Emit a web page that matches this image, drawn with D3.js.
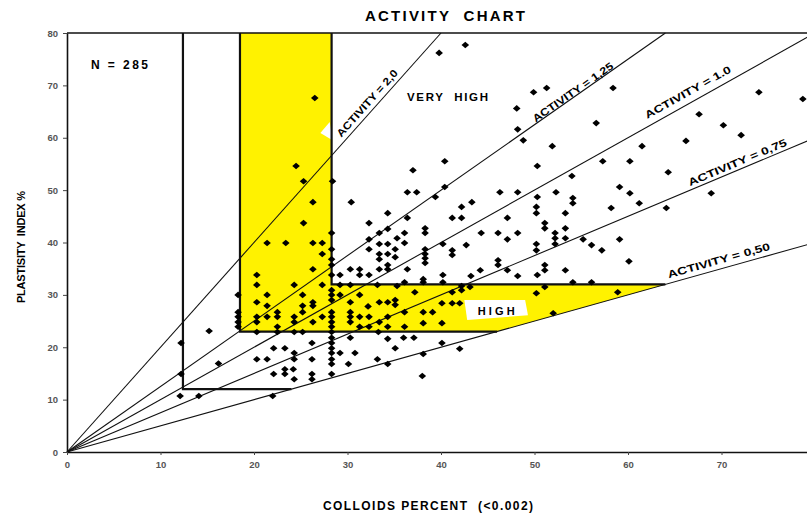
<!DOCTYPE html>
<html>
<head>
<meta charset="utf-8">
<script src="https://cdn.jsdelivr.net/npm/d3@7"></script>
<style>
  body { margin: 0; background: #fff; }
  text { font-family: "Liberation Sans", Arial, sans-serif; }
</style>
</head>
<body>
<div id="graf"></div>
<script>
// Datos
const xTicks = [0, 10, 20, 30, 40, 50, 60, 70, 80];
const yTicks = [0, 10, 20, 30, 40, 50, 60, 70, 80];
const actividades = [2.0, 1.25, 1.0, 0.75, 0.5];
const etiquetasAct = ["ACTIVITY = 2,0", "ACTIVITY = 1,25", "ACTIVITY = 1.0", "ACTIVITY = 0,75", "ACTIVITY = 0,50"];
// donde va cada etiqueta (centro, en unidades del grafico) y su largo
const posEtiquetas = [[32.1, 66.6], [54.1, 68.7], [66.4, 68.7], [71.7, 55.3], [69.7, 36.6]];
const largoEtiquetas = [86, 96, 97, 106, 106];

// zona amarilla (alta actividad)
const zonaAmarilla = [[18.5, 23], [46, 23], [64, 32], [28.3, 32], [28.3, 80], [18.5, 80]];
// lineas gruesas de limites
const limites = [
  [[12.4, 80], [12.4, 12], [24, 12]],
  [[18.5, 80], [18.5, 23], [46, 23]],
  [[28.3, 80], [28.3, 32], [64, 32]],
];
const cajaHigh = [[42.5, 29.0], [49.0, 29.0], [49.3, 26.1], [42.8, 25.2]];
const mancha = [[27.1, 60.9], [28.1, 63.0], [28.4, 59.5]];

// muestras: [coloides %, indice de plasticidad %]
const puntos = [
  [12.2, 20.8], [12.2, 14.9], [12.1, 10.7], [14.1, 10.7], [15.2, 23.1], [16.2, 16.9],
  [26.5, 67.6], [24.5, 54.6], [25.3, 51.7], [26.3, 47.7], [25.3, 43.7], [21.4, 39.9], [23.4, 39.9], [26.3, 39.9],
  [27.3, 39.9], [27.3, 37.8], [20.3, 33.8], [26.3, 34.9], [20.3, 31.9], [24.3, 31.9], [27.3, 31.9],
  [28.4, 51.7], [28.3, 41.8], [28.3, 38.7], [28.3, 36.8], [28.3, 35.7], [28.3, 33.8], [28.3, 30.9], [28.3, 30.0],
  [28.3, 29.0], [28.3, 26.7], [28.3, 25.8], [28.3, 24.8], [28.3, 23.9], [28.3, 22.9], [28.3, 21.8], [28.3, 20.8],
  [28.3, 19.8], [28.3, 18.9], [28.3, 17.7], [28.3, 16.8], [28.3, 14.9],
  [18.3, 30.0], [21.4, 30.0], [25.2, 30.0], [20.3, 28.6], [26.3, 28.6], [21.4, 27.9], [25.2, 27.9], [26.3, 27.9],
  [18.3, 26.7], [22.5, 26.7], [25.2, 26.7], [18.3, 25.8], [20.3, 25.8], [21.4, 25.8], [22.5, 25.8], [24.3, 25.8],
  [27.3, 25.8], [18.3, 24.8], [20.3, 24.8], [24.3, 24.8], [26.3, 24.8], [18.3, 23.9], [22.5, 23.9], [20.3, 22.9],
  [22.5, 22.9], [24.3, 22.9], [25.2, 22.9],
  [29.2, 31.9], [30.3, 31.9], [33.2, 31.9], [29.2, 30.0], [31.3, 30.0], [30.3, 28.6], [33.4, 28.6], [34.3, 28.6],
  [32.2, 27.8], [30.3, 26.7], [30.3, 25.8], [31.3, 25.8], [32.3, 25.8], [34.3, 25.8], [30.3, 24.8], [33.4, 24.8],
  [31.3, 23.9], [32.3, 23.9], [34.3, 23.9], [33.3, 22.9],
  [30.3, 21.8], [34.3, 21.6], [26.2, 20.8], [22.1, 19.8], [23.3, 19.8], [29.2, 18.9], [24.3, 18.9], [30.8, 18.9],
  [20.3, 17.7], [21.4, 17.7], [24.3, 17.7], [26.2, 17.7], [33.2, 17.7], [30.1, 16.8], [34.3, 16.8], [23.3, 15.8],
  [24.2, 15.8], [22.1, 14.9], [23.3, 14.9], [26.2, 14.9], [24.3, 13.9], [26.2, 13.9], [22.0, 10.7], [35.1, 19.8],
  [29.2, 33.8], [30.3, 34.9], [31.3, 34.9], [31.3, 33.8], [32.3, 33.8], [33.4, 34.9], [34.3, 34.9], [34.3, 35.7],
  [33.4, 36.8], [33.4, 37.8], [34.3, 37.8], [32.3, 38.7], [33.4, 39.7], [34.3, 39.7], [32.3, 40.6], [33.4, 41.8],
  [34.3, 42.6], [32.3, 43.7], [34.3, 45.6], [30.4, 47.7],
  [37.0, 53.8], [36.4, 49.6], [37.4, 49.6], [39.4, 48.7], [40.4, 50.6], [40.4, 55.5], [42.2, 46.8], [43.3, 47.7],
  [41.2, 44.7], [42.2, 44.7], [36.4, 44.7], [36.1, 41.8], [38.3, 42.7], [38.3, 41.8], [35.3, 40.8], [36.1, 39.9],
  [35.1, 38.7], [44.3, 41.8], [40.2, 39.7], [41.2, 38.5], [41.2, 37.6], [42.7, 39.5], [38.3, 38.7], [38.3, 37.8],
  [38.3, 37.0], [38.3, 36.1], [35.1, 37.2], [36.4, 34.9], [38.1, 33.0], [44.2, 34.7], [43.2, 33.6], [40.2, 33.8],
  [36.1, 32.4], [38.1, 32.4], [40.2, 32.4], [35.3, 31.7],
  [39.8, 76.2], [42.6, 77.7],
  [49.9, 68.7], [51.3, 69.5], [48.1, 65.6], [48.2, 61.6], [48.8, 59.5], [51.9, 58.4], [50.3, 54.6], [54.0, 52.7],
  [46.3, 49.6], [48.2, 49.6], [50.3, 48.7], [52.3, 49.6], [50.2, 46.8], [50.2, 45.6], [53.3, 45.6], [47.1, 44.7],
  [51.1, 43.7], [51.1, 42.7], [53.3, 42.7], [46.1, 41.8], [47.1, 40.6], [48.2, 41.8], [52.2, 41.8], [52.2, 40.8],
  [52.2, 39.7], [53.3, 40.8], [50.2, 39.7], [50.2, 38.5], [46.1, 36.6], [46.1, 35.7], [47.1, 34.7], [51.1, 35.7],
  [51.1, 34.7], [53.3, 34.7], [48.2, 33.6], [50.3, 33.8], [54.1, 48.5], [54.1, 47.5], [55.2, 40.6], [56.1, 39.5],
  [56.6, 62.8],
  [37.2, 30.5], [41.2, 30.5], [42.2, 30.9], [42.2, 31.7], [43.1, 31.5], [51.1, 31.5], [50.2, 30.3], [52.0, 26.5],
  [35.1, 29.0], [35.1, 28.1], [36.1, 26.7], [38.1, 26.7], [39.1, 26.7], [40.1, 28.4], [41.2, 28.4], [42.0, 28.4],
  [38.1, 24.6], [40.1, 24.6], [36.1, 23.9], [58.9, 30.5], [54.1, 32.4], [56.1, 32.4],
  [36.0, 21.8], [37.1, 21.8], [40.1, 20.8], [38.1, 18.7], [42.0, 19.7], [38.0, 14.5],
  [58.4, 69.5], [74.0, 68.7], [78.7, 67.4], [57.3, 55.5], [60.2, 55.5], [64.3, 53.4], [59.1, 50.6], [60.2, 49.4],
  [61.2, 47.5], [68.9, 49.4], [64.1, 46.6], [58.2, 46.6], [57.2, 38.5], [59.1, 40.6], [60.1, 36.4], [61.5, 58.4],
  [66.2, 59.4], [67.6, 64.5], [70.2, 62.4], [72.1, 60.5],
];

// Dimensiones
const anchoTotal = 807;
const altoTotal = 516;
const margins = { top: 33, right: -8, bottom: 64, left: 67 };

const svg = d3
  .select("#graf")
  .append("svg")
  .attr("width", anchoTotal)
  .attr("height", altoTotal);

const x = d3.scaleLinear().domain([0, 80]).range([margins.left, anchoTotal - margins.right]);
const y = d3.scaleLinear().domain([0, 80]).range([altoTotal - margins.bottom, margins.top]);
const linea = d3.line().x((d) => x(d[0])).y((d) => y(d[1]));

// zona amarilla
svg.append("path").attr("d", linea(zonaAmarilla) + "Z").attr("fill", "#fff200");
svg.append("path").attr("d", linea(mancha) + "Z").attr("fill", "#fff");

// lineas de actividad desde el origen
svg
  .selectAll(".act")
  .data(actividades)
  .join("path")
  .attr("class", "act")
  .attr("d", (a) => linea([[0, 0], [Math.min(80, 80 / a), Math.min(80, 80 / a) * a]]))
  .attr("stroke", "#111")
  .attr("stroke-width", 1.1)
  .attr("fill", "none");

// limites gruesos
svg
  .selectAll(".lim")
  .data(limites)
  .join("path")
  .attr("class", "lim")
  .attr("d", linea)
  .attr("stroke", "#111")
  .attr("stroke-width", 2.2)
  .attr("fill", "none");

// ejes
const ejeY = svg
  .append("g")
  .attr("transform", `translate(${x(0)},0)`)
  .call(d3.axisLeft(y).tickValues(yTicks).tickSize(4).tickSizeOuter(0).tickPadding(5));
const ejeX = svg
  .append("g")
  .attr("transform", `translate(0,${y(0)})`)
  .call(d3.axisBottom(x).tickValues(xTicks).tickSize(3).tickSizeOuter(0).tickPadding(6));
[ejeX, ejeY].forEach((e) => {
  e.select(".domain").attr("stroke", "#111").attr("stroke-width", 1.6);
  e.selectAll(".tick line").attr("stroke", "#444");
  e.selectAll("text")
    .style("font-family", "Liberation Sans, Arial, sans-serif")
    .style("font-size", "9.5px")
    .style("font-weight", "bold")
    .attr("fill", "#555");
});
// linea superior
svg
  .append("path")
  .attr("d", linea([[0, 80], [80, 80]]))
  .attr("stroke", "#111")
  .attr("stroke-width", 1.6);

// puntos (rombos)
svg
  .selectAll(".pt")
  .data(puntos)
  .join("path")
  .attr("class", "pt")
  .attr("transform", (d) => `translate(${x(d[0])},${y(d[1])})`)
  .attr("d", "M-3.8,0L0,-3.3L3.8,0L0,3.3Z")
  .attr("fill", "#000");

// caja HIGH
svg.append("path").attr("d", linea(cajaHigh) + "Z").attr("fill", "#fff");
svg
  .append("text")
  .attr("x", x(45.9))
  .attr("y", y(26.2))
  .attr("text-anchor", "middle")
  .style("font-size", "11px")
  .style("font-weight", "bold")
  .attr("textLength", 37)
  .text("HIGH");

// etiquetas de actividad, giradas segun la pendiente
const pend = (a) => (Math.atan2(y(0) - y(a * 10), x(10) - x(0)) * 180) / Math.PI;
svg
  .selectAll(".lab")
  .data(actividades)
  .join("text")
  .attr("class", "lab")
  .attr("transform", (a, i) => `translate(${x(posEtiquetas[i][0])},${y(posEtiquetas[i][1])}) rotate(${-pend(a)})`)
  .attr("text-anchor", "middle")
  .attr("dy", "0.35em")
  .attr("textLength", (a, i) => largoEtiquetas[i])
  .attr("lengthAdjust", "spacingAndGlyphs")
  .style("font-size", "10.5px")
  .style("font-weight", "bold")
  .text((a, i) => etiquetasAct[i]);

// textos
svg
  .append("text")
  .attr("x", 445)
  .attr("y", 21)
  .attr("text-anchor", "middle")
  .attr("textLength", 160)
  .style("font-size", "15px")
  .style("font-weight", "bold")
  .style("white-space", "pre")
  .text("ACTIVITY  CHART");
svg
  .append("text")
  .attr("x", 91)
  .attr("y", 69)
  .attr("textLength", 57)
  .style("font-size", "12px")
  .style("font-weight", "bold")
  .text("N = 285");
svg
  .append("text")
  .attr("x", 407)
  .attr("y", 101)
  .attr("textLength", 81)
  .style("font-size", "11.5px")
  .style("font-weight", "bold")
  .style("white-space", "pre")
  .text("VERY  HIGH");
svg
  .append("text")
  .attr("x", 428)
  .attr("y", 510)
  .attr("text-anchor", "middle")
  .attr("textLength", 210)
  .style("font-size", "12px")
  .style("font-weight", "bold")
  .style("white-space", "pre")
  .text("COLLOIDS PERCENT  (<0.002)");
svg
  .append("text")
  .attr("transform", "translate(25,247) rotate(-90)")
  .attr("text-anchor", "middle")
  .attr("textLength", 112)
  .style("font-size", "11px")
  .style("font-weight", "bold")
  .style("white-space", "pre")
  .text("PLASTISITY  INDEX %");
</script>
</body>
</html>
